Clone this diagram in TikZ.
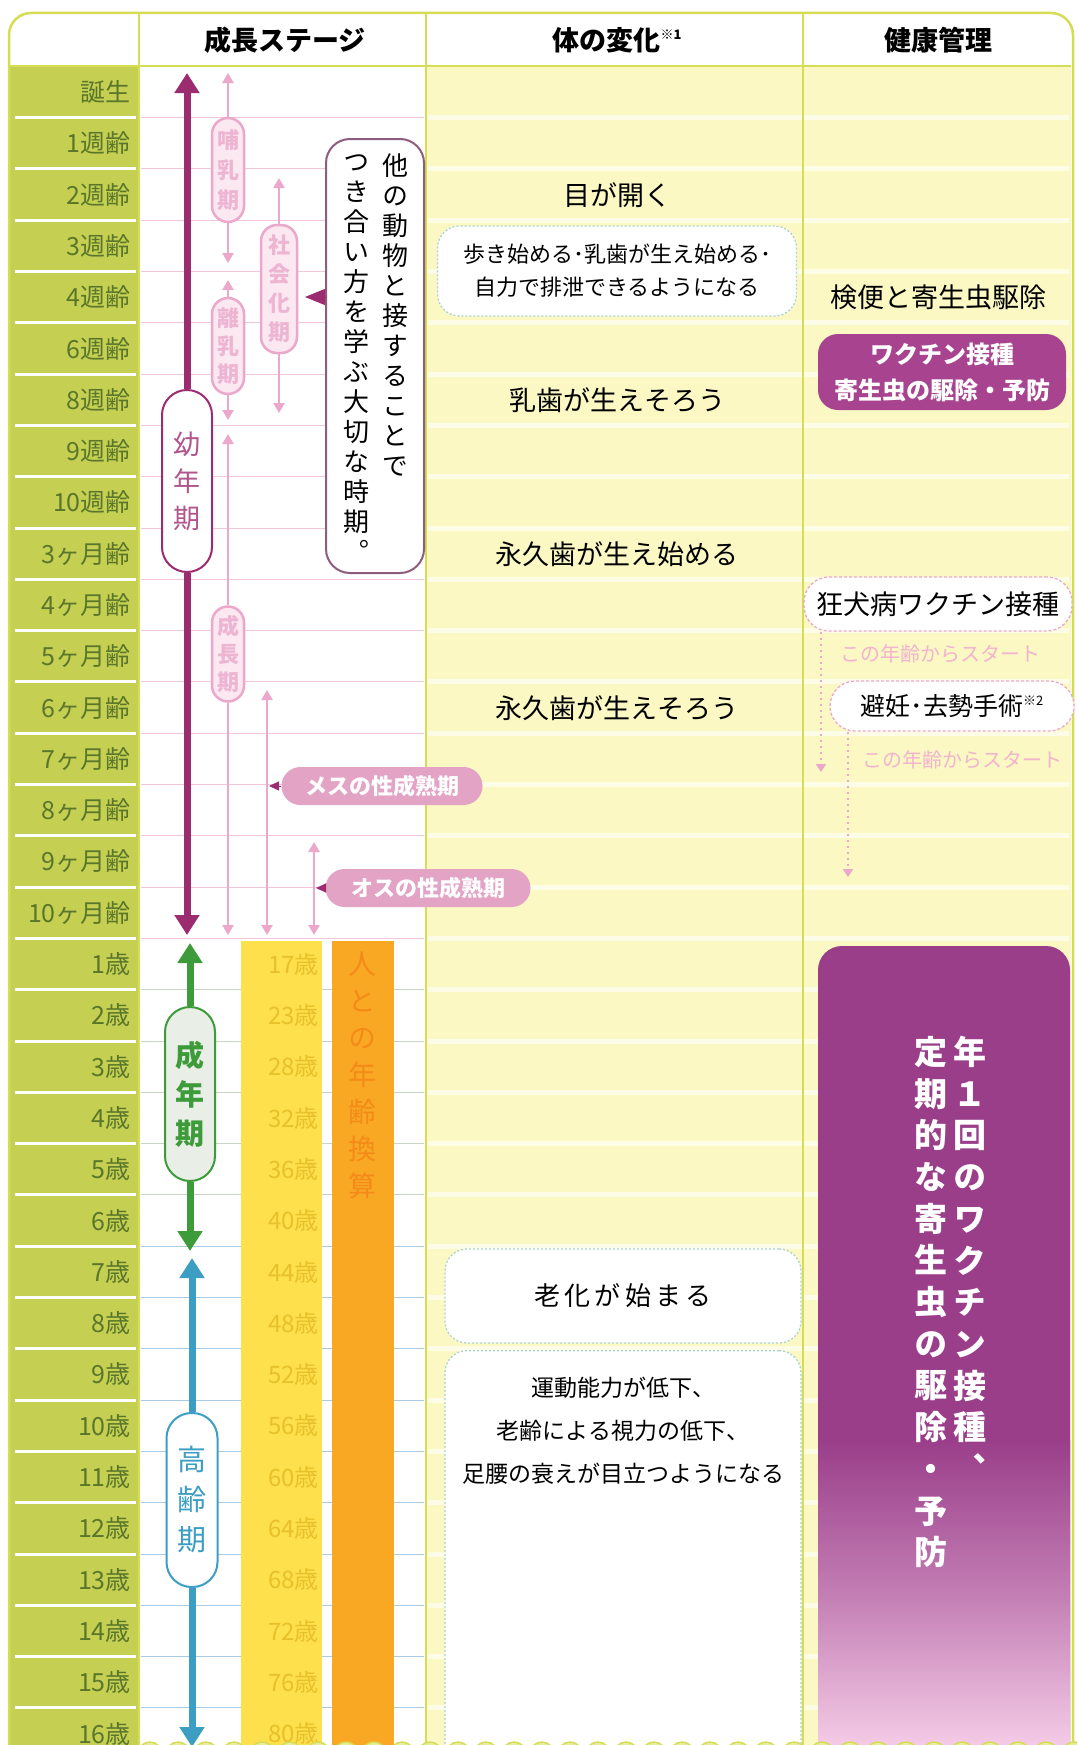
\documentclass[tikz,border=0pt]{standalone}
\usepackage{fontspec}
\setmainfont{Noto Sans CJK JP}
\newfontfamily\vjp{Noto Sans CJK JP}[RawFeature={+vert}]
\usetikzlibrary{arrows.meta,calc}
\makeatletter
\newcommand\vstack[2]{\vbox{\baselineskip=#1\relax\lineskip=0pt\relax\lineskiplimit=-1000pt\relax\@tfor\vs@c:=#2\do{\hbox to 0pt{\hss\vs@c\hss}}}}
\makeatother
\definecolor{lgreen}{HTML}{C5D052}
\definecolor{agetxt}{HTML}{5A762B}
\definecolor{framec}{HTML}{D5DD55}
\definecolor{paley}{HTML}{FBF8C4}
\definecolor{mag}{HTML}{9C2C70}
\definecolor{pinkl}{HTML}{EBA8CA}
\definecolor{pinkf}{HTML}{FBE8F1}
\definecolor{pinkp}{HTML}{E2A3C5}
\definecolor{grn}{HTML}{3E9B3A}
\definecolor{blu}{HTML}{3C9EC2}
\definecolor{yband}{HTML}{FDE04C}
\definecolor{ytext}{HTML}{E8C02A}
\definecolor{oband}{HTML}{F9A824}
\definecolor{otext}{HTML}{F48A18}
\definecolor{purp}{HTML}{9A3E8A}
\definecolor{purpl}{HTML}{F4CBE6}
\definecolor{boxb}{HTML}{A9D3D3}
\definecolor{speechb}{HTML}{8E5C7E}
\definecolor{startp}{HTML}{F2B3CF}
\definecolor{gridp}{HTML}{F2C6DA}
\definecolor{gridg}{HTML}{C9D5C4}
\definecolor{gridb}{HTML}{A9CBE6}
\definecolor{vacc}{HTML}{A8448F}
\begin{document}
\begin{tikzpicture}[x=1pt,y=-1pt,
  agelab/.style={anchor=east,inner sep=0pt,text=agetxt,font=\fontsize{25pt}{25pt}\selectfont},
  humlab/.style={anchor=east,inner sep=0pt,text=ytext,font=\fontsize{24pt}{24pt}\selectfont},
  headt/.style={font=\bfseries\fontsize{27pt}{27pt}\selectfont,inner sep=0pt},
  bodyt/.style={font=\fontsize{27pt}{27pt}\selectfont,inner sep=0pt},
  ppill/.style={draw=pinkl,fill=pinkf,line width=2.5pt,rounded corners=16pt,minimum width=32pt,inner sep=0pt,text=pinkl!85!white,font=\vjp\bfseries\fontsize{22pt}{22pt}\selectfont},
  parrow/.style={draw=pinkl,line width=2.5pt,-{Triangle[width=11pt,length=10pt]}},
  bigarr/.style={line width=7pt,-{Triangle[width=24pt,length=20pt]}},
  spill/.style={fill=pinkp,rounded corners=19pt,minimum height=38pt,inner sep=0pt,text=white,font=\bfseries\fontsize{22pt}{22pt}\selectfont},
  wbox/.style={draw=boxb,line width=1.3pt,dash pattern=on 2pt off 2pt,fill=white,rounded corners=22pt,inner sep=0pt},
  hbox/.style={draw=pinkl,line width=1.3pt,dash pattern=on 3pt off 2pt,fill=white,rounded corners=25pt,inner sep=0pt},
  startt/.style={text=startp,font=\fontsize{20pt}{20pt}\selectfont,inner sep=0pt},
  dotarr/.style={draw=pinkl,line width=2.2pt,dash pattern=on 2pt off 4pt,-{Triangle[width=10pt,length=8pt]}}
]
\useasboundingbox (0,0) rectangle (1077,1745);
\clip (0,0) rectangle (1077,1745);
\fill[white] (0,0) rectangle (1077,1745);
% backgrounds
\fill[lgreen] (10,66) rectangle (139,1745);
\fill[paley] (426,66) rectangle (1071,1745);
\foreach \i in {0,...,32}{
  \draw[white,line width=3pt] (15,{117.65+51.3*\i}) -- (136,{117.65+51.3*\i});
  \draw[white,line width=5pt,opacity=.6] (428,{117.65+51.3*\i}) -- (1069,{117.65+51.3*\i});
}
\foreach \i in {0,...,16} \draw[gridp,line width=1pt] (141,{117.65+51.3*\i}) -- (424,{117.65+51.3*\i});
\foreach \i in {17,...,21} \draw[gridg,line width=1pt] (141,{117.65+51.3*\i}) -- (424,{117.65+51.3*\i});
\foreach \i in {22,...,32} \draw[gridb,line width=1pt] (141,{117.65+51.3*\i}) -- (424,{117.65+51.3*\i});
% frame
\foreach \x in {139,426,803} \draw[framec,line width=2pt] (\x,13) -- (\x,1745);
\draw[framec,line width=2.5pt] (9,66) -- (1071,66);
\draw[framec,line width=2.5pt,rounded corners=22pt] (9,1800) -- (9,13) -- (1073,13) -- (1073,1800);
% headers
\node[headt] (h1) at (285,40) {成長ステージ};
\node[headt] (h2) at (617,40) {体の変化\raisebox{11pt}{\fontsize{13pt}{13pt}\selectfont ※1}};
\node[headt] (h3) at (938,40) {健康管理};
% age labels
\foreach \lab [count=\i from 0] in {誕生,1週齢,2週齢,3週齢,4週齢,6週齢,8週齢,9週齢,10週齢,3ヶ月齢,4ヶ月齢,5ヶ月齢,6ヶ月齢,7ヶ月齢,8ヶ月齢,9ヶ月齢,10ヶ月齢,1歳,2歳,3歳,4歳,5歳,6歳,7歳,8歳,9歳,10歳,11歳,12歳,13歳,14歳,15歳,16歳}
  {\node[agelab] (age\i) at (131,{92+51.3*\i}) {\lab};}
% human age bands
\fill[yband] (241,941) rectangle (322,1745);
\fill[oband] (332,941) rectangle (394,1745);
\foreach \hage [count=\i from 17] in {17,23,28,32,36,40,44,48,52,56,60,64,68,72,76,80}
  {\node[humlab] (hum\i) at (319,{92+51.3*\i}) {\hage{}歳};}
\node[anchor=north,inner sep=0pt,text=otext,font=\vjp\fontsize{28pt}{28pt}\selectfont] (conv) at (362,952) {\vstack{37pt}{人との年齢換算}};
% youth stage
\coordinate (yt) at (187,73); \coordinate (yb) at (187,935);
\node[draw=mag,line width=2pt,fill=white,rounded corners=25pt,minimum width=50pt,minimum height=182pt,inner sep=0pt,text=mag!80!white,font=\vjp\fontsize{27pt}{27pt}\selectfont] (youth) at (187,481) {\vstack{37pt}{幼年期}};
\draw[bigarr,mag] (youth.north) -- (yt);
\draw[bigarr,mag] (youth.south) -- (yb);
% adult stage
\coordinate (at) at (190,943); \coordinate (ab) at (190,1251);
\node[draw=grn,line width=2pt,fill=gridg!40!white,rounded corners=25pt,minimum width=50pt,minimum height=174pt,inner sep=0pt,text=grn,font=\vjp\bfseries\fontsize{29pt}{29pt}\selectfont] (adult) at (190,1094) {\vstack{39pt}{成年期}};
\draw[bigarr,grn] (adult.north) -- (at);
\draw[bigarr,grn] (adult.south) -- (ab);
% senior stage
\coordinate (st) at (192,1258); \coordinate (sb) at (192,1747);
\node[draw=blu,line width=2pt,fill=white,rounded corners=25pt,minimum width=51pt,minimum height=174pt,inner sep=0pt,text=blu,font=\vjp\fontsize{29pt}{29pt}\selectfont] (senior) at (192,1500) {\vstack{40pt}{高齢期}};
\draw[bigarr,blu] (senior.north) -- (st);
\draw[bigarr,blu] (senior.south) -- (sb);
% pink sub-stages
\coordinate (p1t) at (228,73); \coordinate (p1b) at (228,263);
\node[ppill,minimum height=104pt] (p1) at (228,170) {\vstack{30pt}{哺乳期}};
\draw[parrow] (p1.north) -- (p1t); \draw[parrow] (p1.south) -- (p1b);
\coordinate (p2t) at (228,280); \coordinate (p2b) at (228,420);
\node[ppill,minimum height=96pt] (p2) at (228,346) {\vstack{28pt}{離乳期}};
\draw[parrow] (p2.north) -- (p2t); \draw[parrow] (p2.south) -- (p2b);
\coordinate (p3t) at (228,434); \coordinate (p3b) at (228,935);
\node[ppill,minimum height=95pt] (p3) at (228,654) {\vstack{28pt}{成長期}};
\draw[parrow] (p3.north) -- (p3t); \draw[parrow] (p3.south) -- (p3b);
\coordinate (p4t) at (279,178); \coordinate (p4b) at (279,413);
\node[ppill,minimum width=36pt,minimum height=128pt] (soc) at (279,289) {\vstack{29pt}{社会化期}};
\draw[parrow] (soc.north) -- (p4t); \draw[parrow] (soc.south) -- (p4b);
\coordinate (mt) at (267,690); \coordinate (mb) at (267,935);
\draw[parrow,{Triangle[width=11pt,length=10pt]}-{Triangle[width=11pt,length=10pt]}] (mt) -- (mb);
\coordinate (ot) at (314,842); \coordinate (ob) at (314,935);
\draw[parrow,{Triangle[width=11pt,length=10pt]}-{Triangle[width=11pt,length=10pt]}] (ot) -- (ob);
\node[spill,minimum width=201pt] (mesu) at (382,786) {メスの性成熟期};
\node[spill,minimum width=205pt] (osu) at (428,888) {オスの性成熟期};
\coordinate (mtip) at (269,786); \coordinate (otip) at (316,888);
\draw[mag,line width=1pt,-{Triangle[width=9pt,length=10pt]}] (mesu.west) -- (mtip);
\draw[mag,line width=1pt,-{Triangle[width=9pt,length=10pt]}] (osu.west) -- (otip);
% speech box
\node[draw=speechb,line width=2pt,fill=white,rounded corners=24pt,minimum width=98pt,minimum height=434pt] (speech) at (375,356) {};
\node[anchor=north,inner sep=0pt,font=\vjp\fontsize{26pt}{26pt}\selectfont] (sp1) at (395,154) {\vstack{30pt}{他の動物と接することで}};
\node[anchor=north,inner sep=0pt,font=\vjp\fontsize{26pt}{26pt}\selectfont] (sp2) at (356,154) {\vstack{30pt}{つき合い方を学ぶ大切な時期。}};
\coordinate (soctip) at (305,297);
\draw[mag,line width=1pt,-{Triangle[width=16pt,length=20pt]}] (speech.west |- soctip) -- (soctip);
% body changes
\node[bodyt] (eye) at (617,195) {目が開く};
\node[wbox,minimum width=359pt,minimum height=90pt,align=center,font=\fontsize{22pt}{33pt}\selectfont] (walk) at (617,271) {歩き始める･乳歯が生え始める･\\自力で排泄できるようになる};
\node[bodyt] (milk) at (617,400) {乳歯が生えそろう};
\node[bodyt] (perm1) at (617,554) {永久歯が生え始める};
\node[bodyt] (perm2) at (617,708) {永久歯が生えそろう};
\node[wbox,minimum width=356pt,minimum height=94pt,font=\fontsize{26pt}{26pt}\selectfont] (aging) at (623,1296) {老\,化\,が\,始\,ま\,る};
\node[wbox,minimum width=356pt,minimum height=440pt,anchor=north] (old) at (623,1350) {};
\node[align=center,inner sep=0pt,font=\fontsize{23pt}{43pt}\selectfont] (oldt) at (623,1431) {運動能力が低下、\\老齢による視力の低下、\\足腰の衰えが目立つようになる};
% health
\node[bodyt] (ken) at (938,297) {検便と寄生虫駆除};
\node[fill=vacc,rounded corners=20pt,minimum width=248pt,minimum height=76pt,inner sep=0pt,align=center,text=white,font=\bfseries\fontsize{24pt}{36pt}\selectfont] (vac) at (942,372) {ワクチン接種\\寄生虫の駆除・予防};
\node[hbox,minimum width=268pt,minimum height=54pt,font=\fontsize{27pt}{27pt}\selectfont] (rab) at (938,604) {狂犬病ワクチン接種};
\node[startt] (st1) at (940,654) {この年齢からスタート};
\node[hbox,minimum width=244pt,minimum height=50pt,font=\fontsize{25pt}{25pt}\selectfont] (hin) at (952,706) {避妊･去勢手術\raisebox{10pt}{\fontsize{13pt}{13pt}\selectfont ※2}};
\node[startt,anchor=west] (st2) at (862,760) {この年齢からスタート};
\coordinate (d1e) at (821,772); \coordinate (d2e) at (848,877);
\draw[dotarr] (rab.south -| d1e) -- (d1e);
\draw[dotarr] (hin.south -| d2e) -- (d2e);
% big purple block
\fill[purp,rounded corners=24pt] (818,1800) -- (818,946) -- (1070,946) -- (1070,1800) -- cycle;
\shade[top color=purp,bottom color=purpl,middle color=purp!55!purpl] (818,1440) rectangle (1070,1746);
\node[anchor=north,inner sep=0pt,text=white,font=\vjp\bfseries\fontsize{33pt}{33pt}\selectfont] (yr1) at (970,1036) {\vstack{41.7pt}{年１回のワクチン接種、}};
\node[anchor=north,inner sep=0pt,text=white,font=\vjp\bfseries\fontsize{33pt}{33pt}\selectfont] (yr2) at (931,1036) {\vstack{41.7pt}{定期的な寄生虫の駆除・予防}};
% bottom scallops
\foreach \x in {150,178,...,1100} \draw[framec,fill=framec!55!white,line width=1.5pt] (\x,1754) circle (12);
\end{tikzpicture}
\end{document}
